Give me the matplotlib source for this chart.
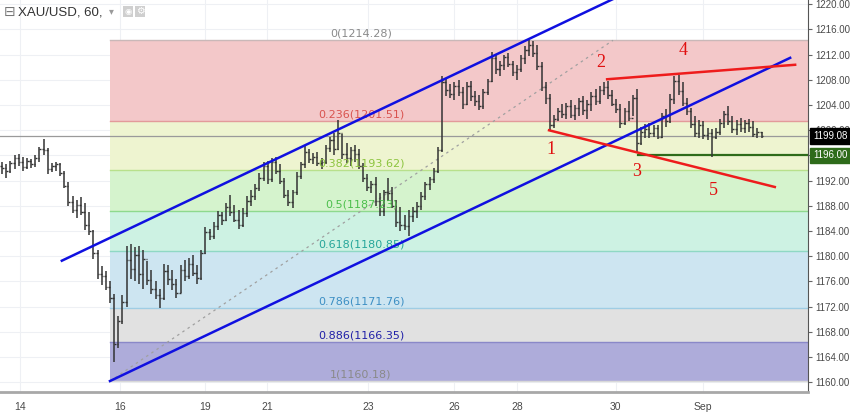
import matplotlib.pyplot as plt
from matplotlib.patches import Rectangle
import numpy as np

# 2-hour bars: high, low, close
high = [1195.0, 1194.6, 1195.2, 1196.0, 1196.2, 1195.8, 1195.6, 1195.4, 1196.0, 1197.4,
        1198.6, 1197.2, 1194.8, 1194.9, 1194.8, 1193.6, 1191.8, 1189.6, 1189.0, 1189.4,
        1188.4, 1187.0, 1184.2, 1181.0, 1178.4, 1177.6, 1176.0, 1174.0, 1170.6, 1173.8,
        1181.6, 1182.0, 1181.4, 1181.6, 1181.0, 1179.2, 1177.8, 1176.0, 1174.8, 1178.8,
        1178.6, 1177.8, 1176.4, 1178.6, 1179.4, 1179.8, 1180.2, 1178.6, 1181.0, 1184.6,
        1184.4, 1185.4, 1187.2, 1187.0, 1188.4, 1189.8, 1188.2, 1187.4, 1187.6, 1189.6,
        1190.6, 1191.4, 1193.2, 1195.0, 1195.2, 1195.6, 1195.8, 1194.6, 1192.4, 1190.6,
        1190.6, 1193.4, 1195.0, 1197.6, 1197.0, 1196.4, 1196.6, 1195.6, 1197.6, 1199.0,
        1199.6, 1201.6, 1199.4, 1198.0, 1197.4, 1197.6, 1197.0, 1194.8, 1193.0, 1192.0,
        1192.6, 1190.0, 1190.6, 1192.4, 1191.0, 1189.0, 1187.8, 1186.6, 1187.4, 1187.8,
        1188.6, 1190.2, 1191.8, 1192.6, 1194.0, 1197.4, 1208.6, 1208.2, 1207.4, 1207.6,
        1208.0, 1206.8, 1207.6, 1207.8, 1206.2, 1205.6, 1206.6, 1208.2, 1212.4, 1212.0,
        1211.0, 1212.0, 1212.2, 1211.0, 1210.4, 1212.0, 1213.4, 1214.4, 1214.2, 1213.6,
        1210.8, 1207.6, 1205.8, 1202.4, 1203.6, 1204.2, 1204.4, 1204.8, 1204.0, 1205.2,
        1205.4, 1204.8, 1206.0, 1206.6, 1207.0, 1207.6, 1207.8, 1206.4, 1205.0, 1204.2,
        1203.6, 1204.6, 1205.6, 1206.6, 1200.6, 1201.0, 1201.2, 1200.8, 1200.8, 1202.8,
        1203.4, 1205.8, 1208.6, 1208.8, 1207.6, 1205.2, 1203.6, 1202.2, 1201.6, 1201.4,
        1200.4, 1200.2, 1200.4, 1201.8, 1203.0, 1203.8, 1202.2, 1201.6, 1202.0, 1201.6,
        1201.8, 1201.4, 1200.4, 1199.8]
low = [1193.0, 1192.4, 1193.2, 1193.8, 1194.4, 1193.6, 1193.9, 1194.0, 1194.2, 1195.0,
       1196.0, 1193.0, 1193.4, 1193.6, 1192.8, 1190.8, 1188.0, 1186.8, 1186.0, 1186.6,
       1184.2, 1183.4, 1179.6, 1176.4, 1175.4, 1174.6, 1172.6, 1163.2, 1165.4, 1169.2,
       1172.0, 1176.4, 1176.0, 1175.6, 1174.8, 1175.4, 1174.0, 1173.2, 1171.8, 1173.0,
       1175.4, 1174.6, 1173.4, 1174.2, 1176.0, 1176.4, 1176.8, 1175.6, 1176.2, 1180.4,
       1182.6, 1182.8, 1184.2, 1185.0, 1185.6, 1186.4, 1185.4, 1184.4, 1184.6, 1186.2,
       1188.0, 1189.0, 1190.4, 1192.0, 1191.4, 1191.8, 1193.0, 1191.4, 1189.2, 1188.0,
       1187.6, 1189.8, 1192.2, 1194.0, 1194.8, 1194.6, 1194.4, 1193.8, 1194.6, 1196.6,
       1196.0, 1196.8, 1195.4, 1194.8, 1194.4, 1195.0, 1193.8, 1191.8, 1190.4, 1190.0,
       1188.0, 1186.4, 1186.4, 1188.8, 1187.6, 1184.6, 1184.0, 1184.2, 1183.2, 1185.4,
       1186.0, 1187.4, 1189.0, 1190.6, 1191.6, 1193.2, 1196.6, 1205.4, 1205.2, 1204.8,
       1205.4, 1203.4, 1204.0, 1204.6, 1203.8, 1203.2, 1203.4, 1205.6, 1207.6, 1209.0,
       1208.6, 1209.6, 1210.0, 1208.6, 1208.0, 1209.2, 1210.6, 1211.8, 1211.6, 1209.6,
       1206.2, 1204.2, 1200.0, 1200.4, 1201.4, 1202.0, 1201.8, 1202.0, 1201.6, 1202.2,
       1202.4, 1201.8, 1203.0, 1204.0, 1204.2, 1205.6, 1205.0, 1203.8, 1202.8, 1200.4,
       1200.8, 1201.4, 1202.2, 1196.4, 1197.6, 1198.8, 1198.8, 1199.0, 1198.6, 1198.8,
       1200.6, 1201.2, 1204.2, 1205.6, 1203.8, 1202.4, 1200.4, 1199.0, 1198.8, 1198.6,
       1198.4, 1195.8, 1198.6, 1199.2, 1200.4, 1200.8, 1199.6, 1199.2, 1199.8, 1199.6,
       1199.8, 1199.0, 1198.8, 1198.8]
close = [1194.0, 1193.6, 1194.8, 1195.6, 1195.0, 1194.2, 1195.2, 1194.6, 1195.6, 1197.0,
         1196.8, 1193.8, 1194.4, 1194.6, 1193.2, 1191.2, 1188.6, 1187.4, 1188.2, 1187.0,
         1185.0, 1184.0, 1180.6, 1177.2, 1176.8, 1175.2, 1173.4, 1166.0, 1169.8, 1172.8,
         1179.4, 1178.0, 1180.2, 1177.2, 1179.6, 1176.2, 1174.8, 1173.8, 1173.4, 1177.6,
         1176.4, 1175.6, 1174.2, 1177.8, 1176.8, 1178.8, 1177.4, 1176.6, 1180.6, 1183.8,
         1183.2, 1184.8, 1186.6, 1185.8, 1187.8, 1187.0, 1185.8, 1185.0, 1186.8, 1188.8,
         1189.6, 1190.8, 1192.4, 1194.4, 1192.2, 1195.0, 1193.6, 1192.0, 1189.8, 1188.6,
         1190.2, 1192.8, 1194.6, 1196.6, 1195.4, 1195.8, 1194.8, 1195.0, 1197.2, 1198.4,
         1197.0, 1199.6, 1196.2, 1195.6, 1196.8, 1196.2, 1194.4, 1192.4, 1191.0, 1191.4,
         1188.8, 1187.2, 1190.2, 1190.0, 1188.0, 1185.4, 1185.0, 1184.8, 1186.4, 1187.2,
         1188.0, 1189.6, 1191.4, 1192.2, 1193.6, 1196.8, 1207.6, 1206.4, 1205.8, 1207.0,
         1206.0, 1204.2, 1207.0, 1205.4, 1204.6, 1203.8, 1206.0, 1207.8, 1211.4, 1209.8,
         1210.4, 1211.6, 1210.6, 1209.2, 1209.8, 1211.4, 1212.8, 1213.6, 1212.2, 1210.2,
         1206.8, 1205.2, 1200.8, 1201.8, 1203.0, 1202.6, 1203.8, 1202.4, 1203.6, 1204.6,
         1203.2, 1204.2, 1205.4, 1204.6, 1206.4, 1206.8, 1205.6, 1204.2, 1203.4, 1201.2,
         1203.0, 1202.0, 1205.2, 1198.0, 1199.8, 1200.2, 1199.6, 1200.4, 1199.0, 1202.2,
         1201.4, 1205.0, 1207.8, 1206.2, 1204.4, 1203.0, 1201.0, 1199.6, 1200.8, 1199.2,
         1199.6, 1199.0, 1199.8, 1201.2, 1202.6, 1201.4, 1200.2, 1201.0, 1200.4, 1201.2,
         1200.6, 1199.4, 1199.8, 1199.08]
first_open = 1194.4
last_price = 1199.08
support = 1196.00

day_labels = ['14', '16', '19', '21', '23', '26', '28', '30', 'Sep']
day_pos = [4.3, 28.4, 48.9, 63.8, 88.2, 108.9, 124.1, 147.9, 168.9]
price_ticks = list(range(1160, 1221, 4))

fib_ratios = ['0', '0.236', '0.382', '0.5', '0.618', '0.786', '0.886', '1']
fib_prices = [1214.28, 1201.51, 1193.62, 1187.23, 1180.85, 1171.76, 1166.35, 1160.18]
fib_line_colors = ['#c9b8b8', '#e39a9a', '#b8e08c', '#8ed98e', '#8fd8c4', '#9fcde4', '#8a88c8', '#d8d8d8']
fib_fill_colors = ['#f3c8c9', '#eef4d0', '#d5f3cd', '#cdf2e3', '#cde5f1', '#e1e1e1', '#aeacda']
fib_text_colors = ['#8a8a8a', '#d9534f', '#8cc43e', '#4cbf4c', '#26a69a', '#3d8fc4', '#2020a8', '#8a8a8a']

wave_labels = ['1', '2', '3', '4', '5']
wave_x = [132.3, 144.3, 152.8, 164.1, 171.5]
wave_y = [1196.9, 1210.7, 1193.4, 1212.7, 1190.4]

fig = plt.figure(figsize=(8.5, 4.18), dpi=100)
ax = fig.add_axes([0, 26 / 418, 808 / 850, 392 / 418])
x_end = 194.2
ax.set_xlim(-0.5, x_end)
ax.set_ylim(1158.46, 1220.68)

# fib retracement
fib_x0 = 26.0
for i in range(7):
    ax.fill_between([fib_x0, x_end], fib_prices[i + 1], fib_prices[i],
                    color=fib_fill_colors[i], lw=0, zorder=1)
for p, lc, tc, r in zip(fib_prices, fib_line_colors, fib_text_colors, fib_ratios):
    ax.plot([fib_x0, x_end], [p, p], color=lc, lw=1, zorder=2)
    ax.text(86.5, p + 0.25, f'{r}({p:.2f})', color=tc, fontsize=8,
            ha='center', va='bottom', zorder=6)
ax.plot([fib_x0, 147.2], [fib_prices[-1], fib_prices[0]], color='#a0a0a0',
        lw=0.9, ls=(0, (2, 3)), zorder=2)

# last price line and support
ax.axhline(last_price, color='#9a9a9a', lw=0.9, zorder=3)
ax.plot([153.2, x_end], [support, support], color='#2e6b1a', lw=1.6, zorder=4)

# OHLC bars
x = np.arange(len(close))
opens = [first_open] + close[:-1]
bar_col = '#333333'
ax.vlines(x, low, high, color=bar_col, lw=1.1, zorder=5)
ax.hlines(opens, x - 0.4, x, color=bar_col, lw=1, zorder=5)
ax.hlines(close, x, x + 0.4, color=bar_col, lw=1, zorder=5)

# channel
ax.plot([14.4, 150.0], [1179.3, 1221.7], color='#1010e0', lw=1.8, zorder=6)
ax.plot([26.0, 189.9], [1160.2, 1211.5], color='#1010e0', lw=1.8, zorder=6)

# wedge lines
ax.plot([131.8, 186.2], [1200.0, 1191.0], color='#ee1c1c', lw=1.8, zorder=6)
ax.plot([145.8, 191.1], [1208.1, 1210.4], color='#ee1c1c', lw=1.8, zorder=6)
for t, wx, wy in zip(wave_labels, wave_x, wave_y):
    ax.text(wx, wy, t, color='#e01010', fontsize=13, family='Liberation Serif',
            ha='center', va='center', zorder=7)

# axes styling
axis_font = 'Liberation Sans'
ax.set_xticks(day_pos)
ax.set_xticklabels(day_labels, family=axis_font, fontsize=7.5, color='#4a4a4a')
ax.set_yticks(price_ticks)
ax.set_yticklabels([f'{p:.2f}' for p in price_ticks], family=axis_font,
                   fontsize=7, color='#4a4a4a')
ax.yaxis.tick_right()
ax.tick_params(axis='x', length=0, pad=7)
ax.tick_params(axis='y', length=3, color='#666', pad=2)
ax.grid(color='#eef0f4', lw=0.8, zorder=0)
ax.set_axisbelow(True)
for s in ['left', 'top']:
    ax.spines[s].set_visible(False)
ax.spines['right'].set_color('#555555')
ax.spines['bottom'].set_color('#a8a8a8')
ax.spines['bottom'].set_linewidth(2)

# price tags on the axis
for val, bg in [(last_price, '#000000'), (support, '#2e6b1a')]:
    ax.annotate(f'{val:.2f}', xy=(1.0, val), xycoords=('axes fraction', 'data'),
                xytext=(3.5, 0), textcoords='offset points', ha='left', va='center',
                fontsize=7, family=axis_font, color='white', zorder=10,
                bbox=dict(boxstyle='square,pad=0.3', fc=bg, ec=bg),
                annotation_clip=False)

# header
fig.text(0.004, 0.971, '\u229f', fontsize=10, color='#777777', va='center')
fig.text(0.021, 0.971, 'XAU/USD, 60,', fontsize=9.5, family='Liberation Sans',
         color='#333333', va='center')
fig.text(0.128, 0.973, '\u25be', fontsize=7, color='#9a9a9a', va='center')
for bx in [123, 135]:
    fig.patches.append(Rectangle((bx / 850, 1 - 17 / 418), 10 / 850, 11 / 418,
                                 transform=fig.transFigure, fc='#cfcfcf', ec='none'))
fig.text(128 / 850, 1 - 11.5 / 418, '\u25c9', fontsize=6, color='white', ha='center', va='center')
fig.text(140 / 850, 1 - 11.5 / 418, '\u2699', fontsize=7, color='white', ha='center', va='center')

fig.savefig('out.png', dpi=100)
